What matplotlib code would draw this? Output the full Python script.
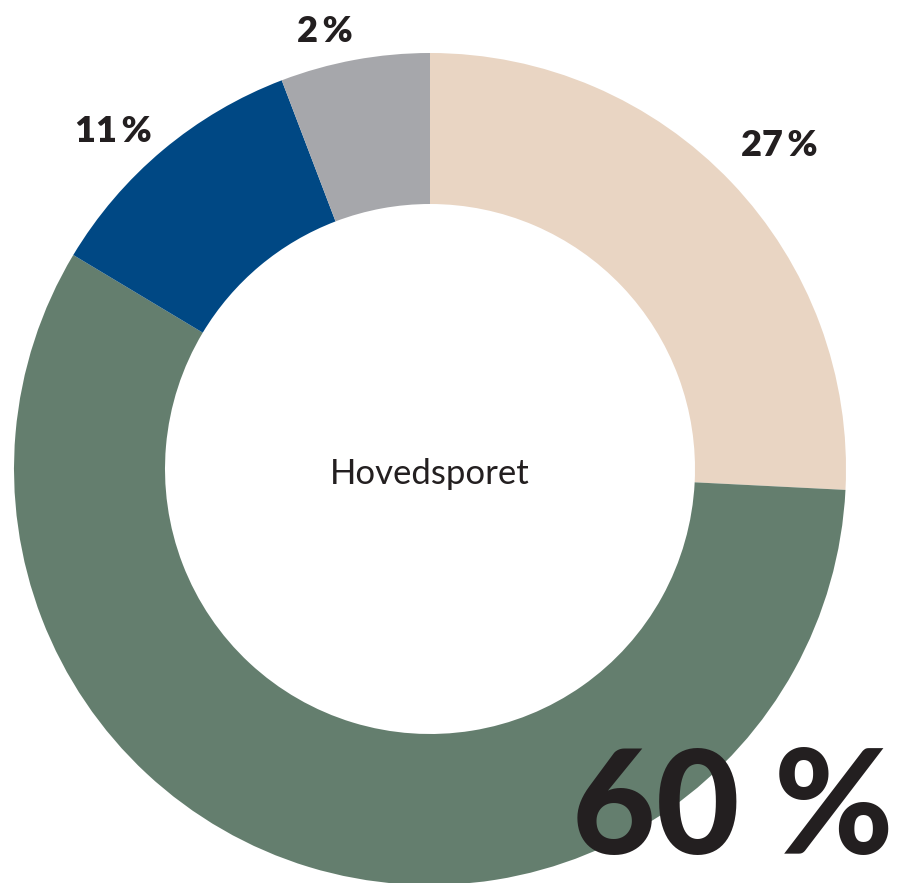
import matplotlib
matplotlib.use("Agg")
import matplotlib.pyplot as plt

# Data (drawn shares) and printed labels
categories = ["A", "B", "C", "D"]
shares = [25.8, 57.8, 10.6, 5.8]
labels = ["27\u2009%", "60 %", "11\u2009%", "2\u2009%"]
colors = ["#E9D5C3", "#647E6E", "#004884", "#A6A7AB"]
center_text = "Hovedsporet"

W, H = 903, 883
fig = plt.figure(figsize=(W / 100, H / 100), dpi=100)
ax = fig.add_axes([0, 0, 1, 1])

cx, cy = 430, H - 469
R, w = 416, 151
ax.pie(shares, colors=colors, startangle=90, counterclock=False,
       radius=R, center=(cx, cy), frame=True,
       wedgeprops=dict(width=w, linewidth=0))
ax.set_xlim(0, W)
ax.set_ylim(0, H)
ax.set_aspect("equal")
ax.axis("off")

txt = "#231F20"
font = ["Lato", "DejaVu Sans"]
ax.text(cx, H - 474, center_text, ha="center", va="center", fontsize=25,
        color=txt, family=font)
ax.text(779, H - 145, labels[0], ha="center", va="center", fontsize=26,
        fontweight="heavy", color=txt, family=font)
ax.text(113, H - 132, labels[2], ha="center", va="center", fontsize=26,
        fontweight="heavy", color=txt, family=font)
ax.text(325, H - 32, labels[3], ha="center", va="center", fontsize=26,
        fontweight="heavy", color=txt, family=font)
ax.text(733, H - 812, labels[1], ha="center", va="center", fontsize=104,
        fontweight="black", color=txt, family=font)

fig.savefig("out.png", dpi=100)
